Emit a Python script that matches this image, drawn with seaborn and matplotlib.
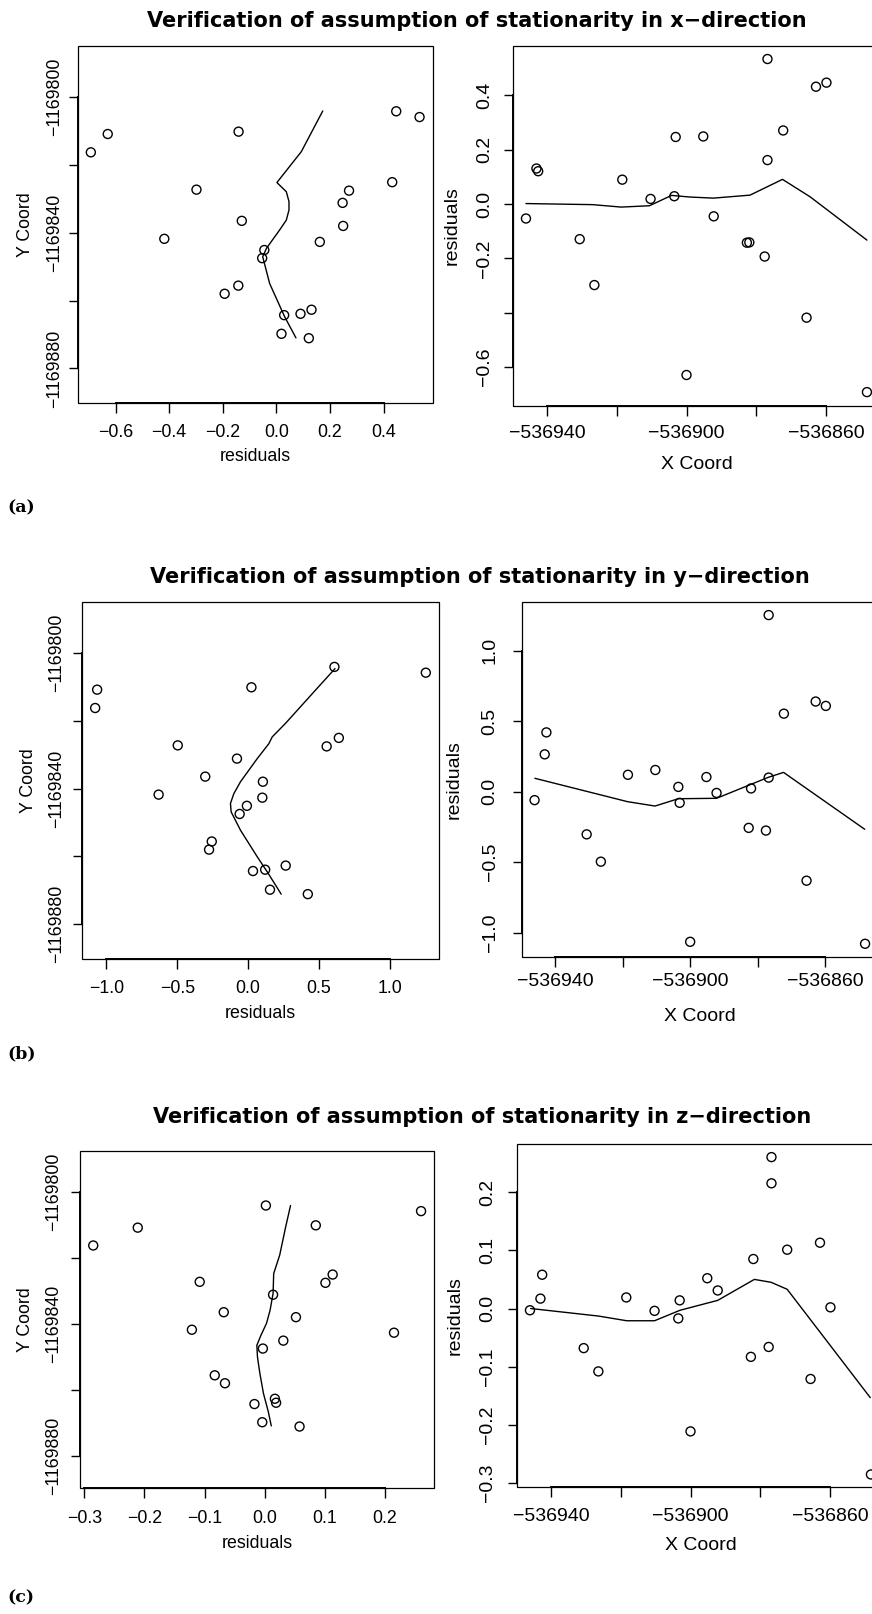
import matplotlib
matplotlib.use("Agg")
import matplotlib.pyplot as plt
from matplotlib.patches import Rectangle
import numpy as np
import pandas as pd
import seaborn as sns

# ---------------- data (22 sampling points) ----------------
X_coord = [-536848.3, -536900.0, -536882.0, -536926.4, -536930.6, -536865.6, -536892.2,
           -536946.0, -536882.7, -536877.6, -536903.5, -536918.4, -536943.0, -536910.3,
           -536942.5, -536876.8, -536895.2, -536903.1, -536872.3, -536862.9, -536859.9,
           -536876.8]
Y_coord = [-1169816.3, -1169810.9, -1169810.2, -1169827.3, -1169836.5, -1169841.8, -1169845.1,
           -1169847.5, -1169855.6, -1169858.0, -1169864.3, -1169863.9, -1169862.7, -1169869.8,
           -1169871.1, -1169842.7, -1169838.0, -1169831.2, -1169827.6, -1169825.1, -1169804.2,
           -1169805.9]
res_x = [-0.692, -0.629, -0.141, -0.298, -0.129, -0.418, -0.045, -0.053, -0.142, -0.193, 0.029,
         0.090, 0.131, 0.019, 0.121, 0.162, 0.249, 0.247, 0.271, 0.432, 0.447, 0.534]
res_y = [-1.080, -1.066, 0.023, -0.497, -0.303, -0.632, -0.009, -0.060, -0.257, -0.276, 0.034,
         0.120, 0.265, 0.154, 0.421, 0.100, 0.104, -0.079, 0.554, 0.640, 0.609, 1.254]
res_z = [-0.285, -0.211, 0.085, -0.108, -0.068, -0.121, 0.031, -0.003, -0.083, -0.066, -0.017,
         0.019, 0.017, -0.004, 0.058, 0.215, 0.052, 0.014, 0.101, 0.113, 0.002, 0.260]

# smoothed trend lines
sm_a_left_res = [0.173, 0.093, 0.002, 0.037, 0.047, 0.047, 0.037, 0.012, -0.037, -0.051, -0.025, 0.031, 0.073]
sm_a_left_Y = [-1169804.1, -1169816.1, -1169825.2, -1169827.9, -1169830.8, -1169833.3, -1169836.3,
               -1169839.2, -1169844.6, -1169847.1, -1169855.0, -1169864.8, -1169871.0]
sm_a_right_X = [-536946.0, -536926.9, -536918.7, -536910.6, -536904.3, -536899.0, -536892.3,
                -536881.8, -536872.5, -536864.6, -536848.3]
sm_a_right_res = [0.002, -0.002, -0.011, -0.006, 0.032, 0.026, 0.022, 0.033, 0.091, 0.027, -0.1325]

sm_b_left_res = [0.613, 0.476, 0.264, 0.170, 0.146, 0.064, -0.054, -0.101, -0.125, -0.120, -0.054, 0.064, 0.134, 0.233]
sm_b_left_Y = [-1169804.7, -1169811.0, -1169820.8, -1169824.8, -1169826.8, -1169831.2, -1169838.0,
               -1169841.5, -1169844.4, -1169846.9, -1169852.3, -1169860.1, -1169864.5, -1169871.1]
sm_b_right_X = [-536945.9, -536918.5, -536910.4, -536903.5, -536892.2, -536876.9, -536872.4, -536848.4]
sm_b_right_res = [0.095, -0.071, -0.102, -0.050, -0.047, 0.102, 0.137, -0.267]

sm_c_left_res = [0.043, 0.035, 0.025, 0.015, 0.014, 0.009, 0.003, -0.006, -0.013, -0.012, -0.008, -0.002, 0.006, 0.011]
sm_c_left_Y = [-1169804.2, -1169810.6, -1169819.2, -1169824.8, -1169830.8, -1169835.9, -1169839.9,
               -1169843.4, -1169846.5, -1169850.0, -1169855.0, -1169861.1, -1169866.6, -1169870.9]
sm_c_right_X = [-536945.8, -536926.3, -536918.3, -536910.3, -536903.0, -536892.2, -536881.7,
                -536876.9, -536872.3, -536848.5]
sm_c_right_res = [0.000, -0.013, -0.021, -0.021, -0.003, 0.014, 0.050, 0.045, 0.033, -0.153]

titles = ["Verification of assumption of stationarity in x\u2212direction",
          "Verification of assumption of stationarity in y\u2212direction",
          "Verification of assumption of stationarity in z\u2212direction"]
panel_tags = ["(a)", "(b)", "(c)"]

ycoord_ticks = [-1169880, -1169860, -1169840, -1169820, -1169800]
ycoord_labels = ["\u22121169880", "", "\u22121169840", "", "\u22121169800"]
xcoord_ticks = [-536940, -536920, -536900, -536880, -536860]
xcoord_labels = ["\u2212536940", "", "\u2212536900", "", "\u2212536860"]
res_a_ticks = [-0.6, -0.4, -0.2, 0.0, 0.2, 0.4]
res_a_xlabels = ["\u22120.6", "\u22120.4", "\u22120.2", "0.0", "0.2", "0.4"]
res_a_ylabels = ["\u22120.6", "", "\u22120.2", "0.0", "0.2", "0.4"]
res_b_ticks = [-1.0, -0.5, 0.0, 0.5, 1.0]
res_b_labels = ["\u22121.0", "\u22120.5", "0.0", "0.5", "1.0"]
res_c_ticks = [-0.3, -0.2, -0.1, 0.0, 0.1, 0.2]
res_c_labels = ["\u22120.3", "\u22120.2", "\u22120.1", "0.0", "0.1", "0.2"]

# ---------------- style ----------------
sns.set_style("white")
plt.rcParams['font.family'] = ['Liberation Sans', 'DejaVu Sans']

W, H = 872, 1614
fig = plt.figure(figsize=(W / 100, H / 100), dpi=100)

TICK_LEN_PX = 9.5
FS_LEFT = 12.8
FS_RIGHT = 14.0


def add_ax(L, T, R, B):
    return fig.add_axes([L / W, 1 - B / H, (R - L) / W, (B - T) / H])


def style(ax, box, xlim, ylim, xt, xtl, yt, ytl, xlab, ylab, fs, xoff, yoff, xloff, yloff):
    L, T, R, B = box
    ax.set_xlim(xlim)
    ax.set_ylim(ylim)
    ax.set_xticks(xt)
    ax.set_xticklabels(xtl)
    ax.set_yticks(yt)
    ax.set_yticklabels(ytl)
    for s in ax.spines.values():
        s.set_visible(False)
    ax.spines['bottom'].set_visible(True)
    ax.spines['left'].set_visible(True)
    ax.spines['bottom'].set_bounds(xt[0], xt[-1])
    ax.spines['left'].set_bounds(yt[0], yt[-1])
    ax.spines['bottom'].set_linewidth(1.4)
    ax.spines['left'].set_linewidth(1.4)
    ax.spines['bottom'].set_color('black')
    ax.spines['left'].set_color('black')
    ax.add_patch(Rectangle((0, 0), 1, 1, transform=ax.transAxes, fill=False,
                           lw=0.9, ec='black', clip_on=False, zorder=5))
    ax.tick_params(axis='both', direction='out', length=TICK_LEN_PX * 0.72, width=1.0,
                   labelsize=fs, color='black', labelcolor='black',
                   bottom=True, left=True, top=False, right=False)
    ax.tick_params(axis='x', pad=(xoff - TICK_LEN_PX) * 0.72)
    ax.tick_params(axis='y', pad=(yoff - TICK_LEN_PX) * 0.72, labelrotation=90)
    for lbl in ax.get_xticklabels():
        lbl.set_va('center')
    for lbl in ax.get_yticklabels():
        lbl.set_ha('center')
        lbl.set_va('center')
    ax.set_xlabel(xlab, fontsize=fs, color='black')
    ax.set_ylabel(ylab, fontsize=fs, color='black')
    ax.xaxis.set_label_coords(0.5, -xloff / (B - T))
    ax.yaxis.set_label_coords(-yloff / (R - L), 0.5)
    ax.xaxis.label.set_va('center')
    ax.yaxis.label.set_va('center')
    ax.grid(False)


def points(ax, x, y):
    df = pd.DataFrame({'x': x, 'y': y})
    sns.scatterplot(data=df, x='x', y='y', ax=ax, marker='o', s=42,
                    facecolor='none', edgecolor='black', linewidth=1.0, zorder=3)


def trend(ax, x, y):
    df = pd.DataFrame({'x': x, 'y': y})
    sns.lineplot(data=df, x='x', y='y', ax=ax, sort=False, estimator=None,
                 color='black', linewidth=1.0, zorder=2)


panels = [
    dict(res=res_x, sl_r=sm_a_left_res, sl_Y=sm_a_left_Y, sr_X=sm_a_right_X, sr_r=sm_a_right_res,
         lbox=(77.7, 46.5, 432.7, 403.0), lxlim=(-0.741, 0.583), lylim=(-1169890.2, -1169785.1),
         lxt=res_a_ticks, lxtl=res_a_xlabels, loffs=(29.7, 23.5, 53.7, 51.9),
         rbox=(512.7, 45.7, 880.9, 405.7), rylim=(-0.742, 0.583),
         ryt=res_a_ticks, rytl=res_a_ylabels, roffs=(27.6, 28.0, 59.3, 60.3),
         title_xy=(477, 27), tag_y=508),
    dict(res=res_y, sl_r=sm_b_left_res, sl_Y=sm_b_left_Y, sr_X=sm_b_right_X, sr_r=sm_b_right_res,
         lbox=(81.7, 601.7, 439.0, 959.0), lxlim=(-1.175, 1.347), lylim=(-1169890.2, -1169785.0),
         lxt=res_b_ticks, lxtl=res_b_labels, loffs=(29.3, 25.0, 54.3, 53.4),
         rbox=(521.7, 601.7, 878.6, 957.3), rylim=(-1.176, 1.349),
         ryt=res_b_ticks, rytl=res_b_labels, roffs=(24.4, 31.7, 59.4, 67.7),
         title_xy=(480, 583), tag_y=1054),
    dict(res=res_z, sl_r=sm_c_left_res, sl_Y=sm_c_left_Y, sr_X=sm_c_right_X, sr_r=sm_c_right_res,
         lbox=(80.0, 1151.0, 434.3, 1488.3), lxlim=(-0.307, 0.282), lylim=(-1169889.8, -1169787.7),
         lxt=res_c_ticks, lxtl=res_c_labels, loffs=(30.0, 26.7, 55.0, 54.2),
         rbox=(516.7, 1144.0, 884.9, 1487.3), rylim=(-0.307, 0.2825),
         ryt=res_c_ticks, rytl=res_c_labels, roffs=(29.4, 29.4, 57.7, 62.0),
         title_xy=(482, 1123), tag_y=1598),
]

for i, p in enumerate(panels):
    axl = add_ax(*p['lbox'])
    points(axl, p['res'], Y_coord)
    trend(axl, p['sl_r'], p['sl_Y'])
    style(axl, p['lbox'], p['lxlim'], p['lylim'], p['lxt'], p['lxtl'],
          ycoord_ticks, ycoord_labels, "residuals", "Y Coord", FS_LEFT, *p['loffs'])

    axr = add_ax(*p['rbox'])
    points(axr, X_coord, p['res'])
    trend(axr, p['sr_X'], p['sr_r'])
    style(axr, p['rbox'], (-536949.8, -536844.3), p['rylim'], xcoord_ticks, xcoord_labels,
          p['ryt'], p['rytl'], "X Coord", "residuals", FS_RIGHT, *p['roffs'])

    tx, ty = p['title_xy']
    fig.text(tx / W, 1 - ty / H, titles[i], ha='center', va='baseline',
             fontsize=15, fontweight='bold', family=['DejaVu Sans'], color='black')
    fig.text(7 / W, 1 - p['tag_y'] / H, panel_tags[i], ha='left', va='center',
             fontsize=12.5, fontweight='bold', family=['DejaVu Serif'],
             color='black')

fig.savefig("out.png", dpi=100, facecolor='white')
